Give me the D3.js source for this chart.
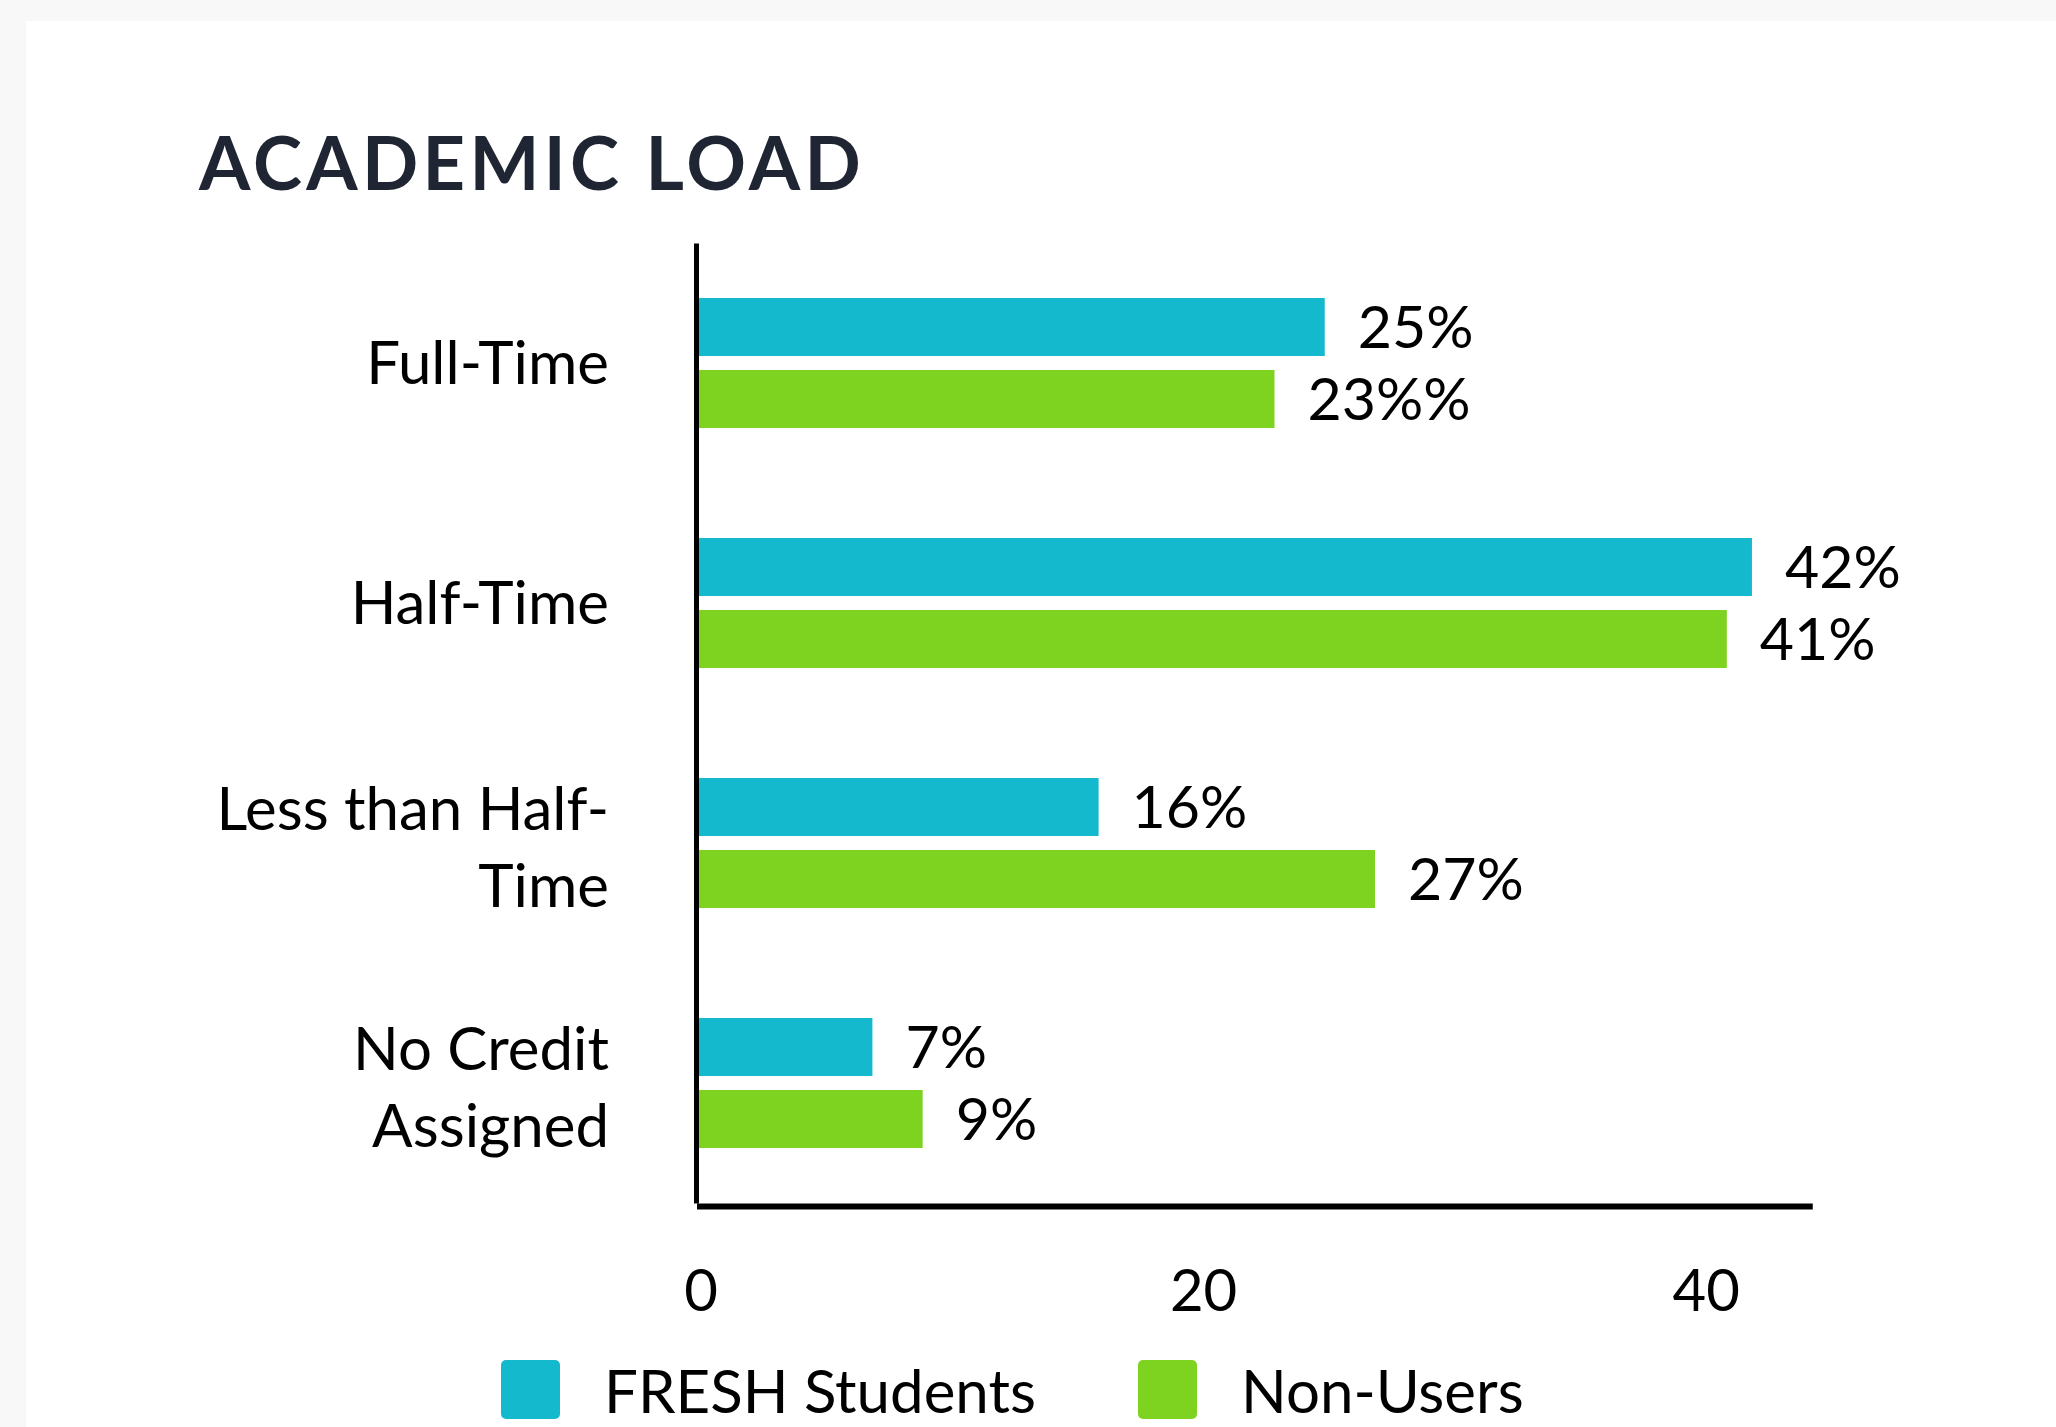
<!DOCTYPE html>
<html>
<head>
<meta charset="utf-8">
<script src="https://cdn.jsdelivr.net/npm/d3@7"></script>
<style>
  html, body { margin: 0; padding: 0; background: #f8f8f8; }
  svg { display: block; }
  text { font-family: Lato, "Open Sans", sans-serif; }
</style>
</head>
<body>
<script>
// ---- data ----
const title = "ACADEMIC LOAD";
const categories = ["Full-Time", "Half-Time", "Less than Half-Time", "No Credit Assigned"];
const categoryLines = [["Full-Time"], ["Half-Time"], ["Less than Half-", "Time"], ["No Credit", "Assigned"]];
const seriesNames = ["FRESH Students", "Non-Users"];
const freshValues = [25, 42, 16, 7];
const nonUserValues = [23, 41, 27, 9];
const valueLabelsFresh = ["25%", "42%", "16%", "7%"];
const valueLabelsNon = ["23%%", "41%", "27%", "9%"];
const tickValues = [0, 20, 40];
const colors = ["#15b9ce", "#7ed321"];

const W = 2056, H = 1427;
const svg = d3.select("body").append("svg").attr("width", W).attr("height", H);

// card
svg.append("rect").attr("x", 26).attr("y", 21).attr("width", W - 26).attr("height", H - 21).attr("fill", "#ffffff");

// title
svg.append("text").attr("x", 199).attr("y", 190)
  .attr("font-size", 74).attr("font-weight", 700).attr("letter-spacing", 4.3)
  .attr("fill", "#1f2532").text(title);

const x0px = 696.5, unit = 25.13;
const x = d3.scaleLinear().domain([0, 44.4]).range([x0px, x0px + 44.4 * unit]);
const y0 = d3.scaleBand().domain(categories).range([243, 1203]).padding(0);
const y1 = d3.scaleBand().domain(seriesNames).range([55, 185]).paddingInner(14 / 72).paddingOuter(0);

const data = categories.map((c, i) => ({
  cat: c, lines: categoryLines[i],
  vals: [
    { s: seriesNames[0], v: freshValues[i], label: valueLabelsFresh[i], color: colors[0] },
    { s: seriesNames[1], v: nonUserValues[i], label: valueLabelsNon[i], color: colors[1] }
  ]
}));

const groups = svg.selectAll("g.grp").data(data).join("g").attr("class", "grp")
  .attr("transform", d => `translate(0,${y0(d.cat)})`);

groups.selectAll("rect").data(d => d.vals).join("rect")
  .attr("x", x(0)).attr("y", d => y1(d.s))
  .attr("width", d => x(d.v) - x(0)).attr("height", y1.bandwidth())
  .attr("fill", d => d.color);

const valSize = 59;
const valCap = valSize * 0.7165;
groups.selectAll("text.val").data(d => d.vals).join("text").attr("class", "val")
  .attr("x", d => x(d.v) + 33).attr("y", d => y1(d.s) + y1.bandwidth() / 2 + valCap / 2)
  .attr("font-size", valSize).attr("fill", "#000").text(d => d.label);

// category labels
const catSize = 60;
const capH = catSize * 0.7165;
const lineH = 77;
groups.each(function(d) {
  const g = d3.select(this);
  const n = d.lines.length;
  const center = y0.bandwidth() / 2 + (n > 1 ? 4 : 0);
  const blockH = capH + (n - 1) * lineH;
  const firstBase = center - blockH / 2 + capH;
  d.lines.forEach((ln, j) => {
    g.append("text").attr("x", 609).attr("y", firstBase + j * lineH)
      .attr("text-anchor", "end").attr("font-size", catSize).attr("fill", "#000").text(ln);
  });
});

// axes
const xAxis = d3.axisBottom(x).tickValues(tickValues).tickSize(0).tickPadding(0).tickFormat(d3.format("d"));
const gx = svg.append("g").attr("transform", "translate(0,1206)").call(xAxis);
gx.select(".domain").attr("stroke", "#000").attr("stroke-width", 6);
gx.selectAll("text").attr("font-size", 58).attr("font-family", "Lato, sans-serif").attr("fill", "#000")
  .attr("dy", null).attr("y", 105).attr("dx", 4);

const yAxis = d3.axisLeft(y0).tickSize(0).tickFormat("");
const gy = svg.append("g").attr("transform", "translate(696,0)").call(yAxis);
gy.select(".domain").attr("stroke", "#000").attr("stroke-width", 5);

// legend
const legendX = [501, 1138];
const lg = svg.selectAll("g.leg").data(seriesNames).join("g").attr("class", "leg")
  .attr("transform", (d, i) => `translate(${legendX[i]},1360)`);
lg.append("rect").attr("width", 59).attr("height", 59).attr("rx", 5).attr("fill", (d, i) => colors[i]);
lg.append("text").attr("x", 103).attr("y", 53).attr("font-size", 60).attr("fill", "#000").text(d => d);
</script>
</body>
</html>
